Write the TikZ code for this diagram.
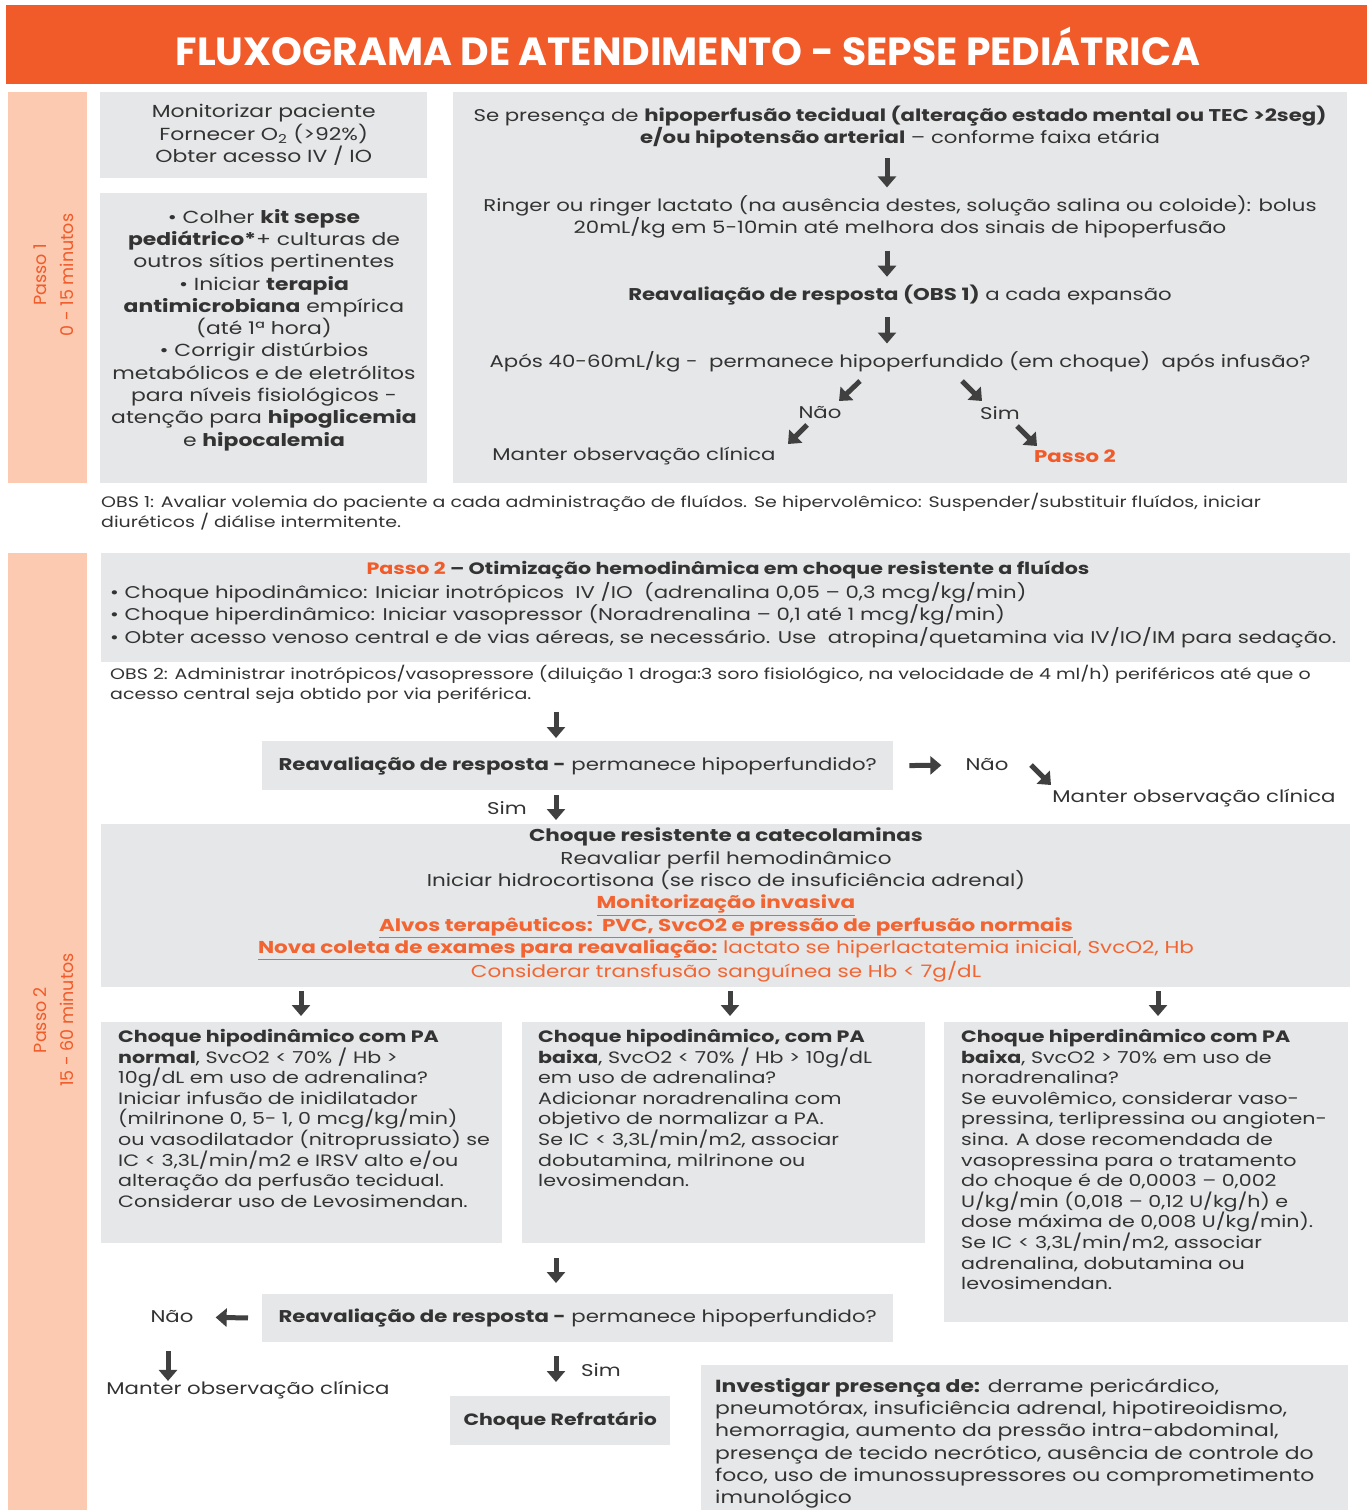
\documentclass[tikz,border=0pt]{standalone}
\usepackage{fontspec}
\setmainfont{Poppins}[FakeStretch=1.25]
\newfontfamily\titlefont{Poppins}
\usetikzlibrary{arrows.meta,positioning}

\definecolor{titleorange}{HTML}{F15A29}
\definecolor{peach}{HTML}{FBCAB0}
\definecolor{boxgray}{HTML}{E6E7E8}
\definecolor{textgray}{HTML}{333333}
\definecolor{arrowgray}{HTML}{404040}
\definecolor{ored}{HTML}{F26532}

\tikzset{
  greybox/.style={fill=boxgray, inner sep=0pt, anchor=north west},
  sidebar/.style={fill=peach, inner sep=0pt, anchor=north west},
  txt/.style={inner sep=0pt, text=textgray, font=\fontsize{17}{22.3}\selectfont},
  smalltxt/.style={inner sep=0pt, text=textgray, font=\fontsize{15.2}{20}\selectfont},
  bigarrow/.style={draw=arrowgray, line width=5pt, -{Triangle[length=11pt,width=18pt]}},
  steplabel/.style={inner sep=0pt, rotate=90, align=center, text=titleorange,
    font=\titlefont\fontsize{17.5}{27}\selectfont}
}

\begin{document}
\begin{tikzpicture}[x=1pt,y=-1pt]
\useasboundingbox[fill=white] (0,0) rectangle (1367,1510);

% title bar
\fill[titleorange] (6,5) rectangle (1367,84);
\node[inner sep=0pt, text=white, font=\titlefont\fontsize{39.3}{44}\selectfont\bfseries] (title) at (688,46)
  {FLUXOGRAMA DE ATENDIMENTO - SEPSE PEDIÁTRICA};

% Passo 1
\node[sidebar, minimum width=79pt, minimum height=391pt] (bar1) at (8,92) {};
\node[steplabel] (lab1) at (54,275) {Passo 1\\0 - 15 minutos};

\node[greybox, minimum width=327pt, minimum height=86pt] (boxA) at (100,92) {};
\node[txt, align=center, font=\fontsize{17.5}{22.5}\selectfont] (a) at (boxA.center) {Monitorizar paciente\\Fornecer O\textsubscript{2} (>92\%)\\Obter acesso IV / IO};

\node[greybox, minimum width=327pt, minimum height=290pt] (boxB) at (100,193) {};
\node[txt, align=center, font=\fontsize{17.5}{22.3}\selectfont] (b) at (264,330) {%
  • Colher \textbf{kit sepse}\\
  \textbf{pediátrico*}+ culturas de\\
  outros sítios pertinentes\\
  • Iniciar \textbf{terapia}\\
  \textbf{antimicrobiana} empírica\\
  (até 1ª hora)\\
  • Corrigir distúrbios\\
  metabólicos e de eletrólitos\\
  para níveis fisiológicos -\\
  atenção para \textbf{hipoglicemia}\\
  e \textbf{hipocalemia}};

\node[greybox, minimum width=894pt, minimum height=391pt] (boxC) at (453,92) {};
\coordinate (cx) at (887,0);
\node[txt, align=center] (c1) at (900,127) {Se presença de \textbf{hipoperfusão tecidual (alteração estado mental ou TEC >2seg)}\\
  \textbf{e/ou hipotensão arterial} – conforme faixa etária};
\node[txt, align=center] (c2) at (900,217) {Ringer ou ringer lactato (na ausência destes, solução salina ou coloide): bolus\\
  20mL/kg em 5-10min até melhora dos sinais de hipoperfusão};
\node[txt] (c3) at (900,295) {\textbf{Reavaliação de resposta (OBS 1)} a cada expansão};
\node[txt] (c4) at (900,362) {Após 40-60mL/kg -\ \ permanece hipoperfundido (em choque)\ \ após infusão?};
\node[txt] (nao1) at (820,413) {Não};
\node[txt] (sim1) at (1000,413) {Sim};
\node[txt] (manter1) at (634,456) {Manter observação clínica};
\node[txt, text=titleorange, font=\fontsize{17}{22}\selectfont\bfseries] (passo1) at (1075,456) {Passo 2};

\draw[bigarrow, shorten <=10pt, shorten >=8pt] (c1.south -| cx) -- (c2.north -| cx);
\draw[bigarrow, shorten <=12pt, shorten >=8pt] (c2.south -| cx) -- (c3.north -| cx);
\draw[bigarrow, shorten <=12pt, shorten >=8pt] (c3.south -| cx) -- (c4.north -| cx);
\draw[bigarrow] ([shift={(40,-32)}]nao1.center) -- ([shift={(19,-12)}]nao1.center);
\draw[bigarrow] ([shift={(-13,12)}]nao1.center) -- ([shift={(-32,31)}]nao1.center);
\draw[bigarrow] ([shift={(-38,-32)}]sim1.center) -- ([shift={(-18,-12)}]sim1.center);
\draw[bigarrow] ([shift={(17,13)}]sim1.center) -- ([shift={(37,33)}]sim1.center);

% OBS 1
\node[smalltxt, anchor=north west, align=left] (obs1) at (101,493) {OBS 1: Avaliar volemia do paciente a cada administração de fluídos. Se hipervolêmico: Suspender/substituir fluídos, iniciar\\
  diuréticos / diálise intermitente.};

% Passo 2
\node[sidebar, minimum width=79pt, minimum height=957pt] (bar2) at (8,553) {};
\node[steplabel] (lab2) at (54,1020) {Passo 2\\15 - 60 minutos};

\node[greybox, minimum width=1249pt, minimum height=109pt] (boxD) at (101,553) {};
\node[txt, font=\fontsize{16.5}{22}\selectfont\bfseries] (d1) at (728,570) {\textcolor{titleorange}{Passo 2} – Otimização hemodinâmica em choque resistente a fluídos};
\node[txt, anchor=north west, align=left, font=\fontsize{17}{22.5}\selectfont] (d2) at (110,582) {• Choque hipodinâmico: Iniciar inotrópicos\ \ IV /IO\ \ (adrenalina 0,05 – 0,3 mcg/kg/min)\\
  • Choque hiperdinâmico: Iniciar vasopressor (Noradrenalina – 0,1 até 1 mcg/kg/min)\\
  • Obter acesso venoso central e de vias aéreas, se necessário. Use\ \ atropina/quetamina via IV/IO/IM para sedação.};
\node[smalltxt, anchor=north west, align=left] (obs2) at (110,665) {OBS 2: Administrar inotrópicos/vasopressore (diluição 1 droga:3 soro fisiológico, na velocidade de 4 ml/h) periféricos até que o\\
  acesso central seja obtido por via periférica.};

\coordinate (ax) at (556,0);
\node[greybox, minimum width=631pt, minimum height=49pt] (boxE) at (262,741) {};
\node[txt] (e) at (boxE.center) {\textbf{Reavaliação de resposta -} permanece hipoperfundido?};
\node[txt] (nao2) at (987,765) {Não};
\node[txt] (manter2) at (1194,798) {Manter observação clínica};
\node[txt] (sim2) at (507,808) {Sim};
\draw[bigarrow, shorten <=8pt, shorten >=3pt] (obs2.south -| ax) -- (boxE.north -| ax);
\draw[bigarrow, shorten <=16pt, shorten >=24pt] (boxE.east) -- (nao2.west);
\draw[bigarrow] ([shift={(44,0)}]nao2.center) -- ([shift={(64,20)}]nao2.center);

\node[greybox, minimum width=1249pt, minimum height=163pt] (boxF) at (101,824) {};
\draw[bigarrow, shorten <=5pt, shorten >=4pt] (boxE.south -| ax) -- (boxF.north -| ax);
\node[txt, align=center, font=\fontsize{17.2}{22.3}\selectfont] (f) at (726,905) {%
  \textbf{Choque resistente a catecolaminas}\\
  Reavaliar perfil hemodinâmico\\
  Iniciar hidrocortisona (se risco de insuficiência adrenal)\\
  \textcolor{ored}{\underline{\textbf{Monitorização invasiva}}}\\
  \textcolor{ored}{\underline{\textbf{Alvos terapêuticos:\ \ PVC, SvcO2 e pressão de perfusão normais}}}\\
  \textcolor{ored}{\underline{\textbf{Nova coleta de exames para reavaliação:}} lactato se hiperlactatemia inicial, SvcO2, Hb}\\
  \textcolor{ored}{Considerar transfusão sanguínea se Hb < 7g/dL}};

\node[greybox, minimum width=401pt, minimum height=221pt] (g1box) at (101,1022) {};
\node[greybox, minimum width=403pt, minimum height=221pt] (g2box) at (522,1022) {};
\node[greybox, minimum width=404pt, minimum height=300pt] (g3box) at (944,1022) {};
\coordinate (gx1) at (301,0);
\coordinate (gx2) at (730,0);
\coordinate (gx3) at (1158,0);
\draw[bigarrow, shorten <=4pt, shorten >=6pt] (boxF.south -| gx1) -- (g1box.north -| gx1);
\draw[bigarrow, shorten <=4pt, shorten >=6pt] (boxF.south -| gx2) -- (g2box.north -| gx2);
\draw[bigarrow, shorten <=4pt, shorten >=6pt] (boxF.south -| gx3) -- (g3box.north -| gx3);

\node[txt, anchor=north west, align=left, font=\fontsize{16.5}{20.6}\selectfont] (g1) at (118,1029) {%
  \textbf{Choque hipodinâmico com PA}\\
  \textbf{normal}, SvcO2 < 70\% / Hb >\\
  10g/dL em uso de adrenalina?\\
  Iniciar infusão de inidilatador\\
  (milrinone 0, 5- 1, 0 mcg/kg/min)\\
  ou vasodilatador (nitroprussiato) se\\
  IC < 3,3L/min/m2 e IRSV alto e/ou\\
  alteração da perfusão tecidual.\\
  Considerar uso de Levosimendan.};
\node[txt, anchor=north west, align=left, font=\fontsize{16.5}{20.6}\selectfont] (g2) at (538,1029) {%
  \textbf{Choque hipodinâmico, com PA}\\
  \textbf{baixa}, SvcO2 < 70\% / Hb > 10g/dL\\
  em uso de adrenalina?\\
  Adicionar noradrenalina com\\
  objetivo de normalizar a PA.\\
  Se IC < 3,3L/min/m2, associar\\
  dobutamina, milrinone ou\\
  levosimendan.};
\node[txt, anchor=north west, align=left, font=\fontsize{16.5}{20.6}\selectfont] (g3) at (961,1029) {%
  \textbf{Choque hiperdinâmico com PA}\\
  \textbf{baixa}, SvcO2 > 70\% em uso de\\
  noradrenalina?\\
  Se euvolêmico, considerar vaso-\\
  pressina, terlipressina ou angioten-\\
  sina. A dose recomendada de\\
  vasopressina para o tratamento\\
  do choque é de 0,0003 – 0,002\\
  U/kg/min (0,018 – 0,12 U/kg/h) e\\
  dose máxima de 0,008 U/kg/min).\\
  Se IC < 3,3L/min/m2, associar\\
  adrenalina, dobutamina ou\\
  levosimendan.};

\node[greybox, minimum width=631pt, minimum height=48pt] (boxH) at (262,1294) {};
\node[txt] (h) at (boxH.center) {\textbf{Reavaliação de resposta -} permanece hipoperfundido?};
\draw[bigarrow, shorten <=15pt, shorten >=11pt] (g2box.south -| ax) -- (boxH.north -| ax);

\node[txt] (nao3) at (172,1317) {Não};
\node[txt] (manter3) at (248,1390) {Manter observação clínica};
\node[txt] (sim3) at (601,1370) {Sim};
\draw[bigarrow, shorten <=14pt, shorten >=22pt] (boxH.west) -- (nao3.east);
\draw[bigarrow, shorten <=28pt, shorten >=0pt] (nao3.south -| 168,0) -- (manter3.north -| 168,0);

\node[greybox, minimum width=220pt, minimum height=49pt] (boxI) at (450,1396) {};
\node[txt, font=\fontsize{16.4}{22}\selectfont\bfseries] (i) at (boxI.center) {Choque Refratário};
\draw[bigarrow, shorten <=14pt, shorten >=14pt] (boxH.south -| ax) -- (boxI.north -| ax);

\node[greybox, minimum width=647pt, minimum height=145pt] (boxJ) at (701,1365) {};
\node[txt, anchor=north west, align=left, font=\fontsize{17.5}{22.3}\selectfont] (j) at (715,1378) {%
  \textbf{Investigar presença de:} derrame pericárdico,\\
  pneumotórax, insuficiência adrenal, hipotireoidismo,\\
  hemorragia, aumento da pressão intra-abdominal,\\
  presença de tecido necrótico, ausência de controle do\\
  foco, uso de imunossupressores ou comprometimento\\
  imunológico};

\end{tikzpicture}
\end{document}
